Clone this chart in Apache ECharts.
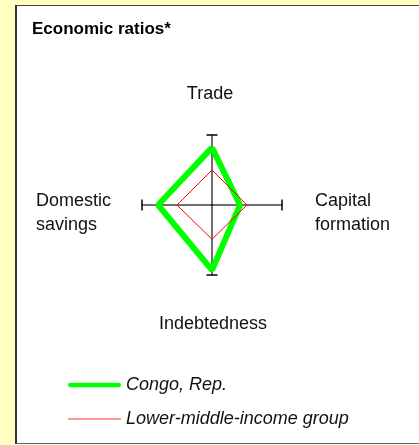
<!DOCTYPE html>
<html lang="en">
  <head>
    <meta charset="utf-8" />
    <script type="text/javascript" src="https://cdn.jsdelivr.net/npm/echarts@6/dist/echarts.min.js"></script>
    <title>Economic ratios</title>
    <style>
      html, body { margin: 0; padding: 0; background: #ffffc0; }
      #panel {
        position: absolute; left: 15px; top: 5px; width: 404px; height: 439px;
        background: #fff; border-left: 2px solid #333; border-top: 1px solid #444;
        border-bottom: 1px solid #666; box-sizing: border-box;
      }
      #chart { position: absolute; left: 0; top: 0; width: 419px; height: 445px; }
    </style>
  </head>
  <body>
    <div id="panel"></div>
    <div id="chart"></div>
    <script>
      // axes: Trade (up), Capital formation (right), Indebtedness (down), Domestic savings (left)
      var indicators = ['Trade', 'Capital\nformation', 'Indebtedness', 'Domestic\nsavings']
      var seriesNames = ['Congo, Rep.', 'Lower-middle-income group']
      var congo = [0.82, 0.40, 0.93, 0.77]
      var lowerMiddle = [0.50, 0.50, 0.49, 0.50]

      // turn the four ratios into a closed diamond on the x/y plane
      function toDiamond (v) {
        return [[0, v[0]], [v[1], 0], [0, -v[2]], [-v[3], 0], [0, v[0]]]
      }

      window.onload = function () {
        var chart = echarts.init(document.getElementById('chart'))
        var font = 'Liberation Sans, Arial, sans-serif'
        var labelStyle = { fontSize: 18, fill: '#111', fontFamily: font }
        chart.setOption({
          animation: false,
          textStyle: { fontFamily: font },
          title: {
            text: 'Economic ratios*', left: 27, top: 16,
            textStyle: { fontSize: 17, fontWeight: 'bold', color: '#000', fontFamily: font }
          },
          grid: { left: 142, top: 135, width: 140, height: 140 },
          xAxis: {
            type: 'value', min: -1, max: 1, interval: 1,
            axisLine: { lineStyle: { color: '#707070', width: 2 } },
            axisTick: { show: false }, axisLabel: { show: false }, splitLine: { show: false }
          },
          yAxis: {
            type: 'value', min: -1, max: 1, interval: 1,
            axisLine: { lineStyle: { color: '#707070', width: 2 } },
            axisTick: { show: false }, axisLabel: { show: false }, splitLine: { show: false }
          },
          legend: {
            orient: 'vertical', left: 63, top: 371, itemWidth: 53, itemHeight: 14, itemGap: 16,
            data: [
              { name: seriesNames[0], icon: 'path://M0,0M1,4.5h51a2.5,2.5,0,0,1,0,5h-51a2.5,2.5,0,0,1,0,-5zM53,14' },
              { name: seriesNames[1], icon: 'path://M0,0M0,6.5h53v1h-53zM53,14' }
            ],
            textStyle: { fontSize: 18, fontStyle: 'italic', color: '#111', fontFamily: font }
          },
          graphic: [
            { type: 'text', style: Object.assign({ text: indicators[0], x: 210, y: 94, align: 'center', verticalAlign: 'middle' }, labelStyle) },
            { type: 'text', style: Object.assign({ text: indicators[1], x: 315, y: 189, lineHeight: 24 }, labelStyle) },
            { type: 'text', style: Object.assign({ text: indicators[2], x: 213, y: 324, align: 'center', verticalAlign: 'middle' }, labelStyle) },
            { type: 'text', style: Object.assign({ text: indicators[3], x: 36, y: 189, lineHeight: 24 }, labelStyle) }
          ],
          series: [
            {
              name: seriesNames[1], type: 'line', symbol: 'none', data: toDiamond(lowerMiddle),
              lineStyle: { color: '#ff0000', width: 1 }, itemStyle: { color: '#ff3030' }, z: 3
            },
            {
              name: seriesNames[0], type: 'line', symbol: 'none', data: toDiamond(congo),
              lineStyle: { color: '#00ff00', width: 6 }, itemStyle: { color: '#00ff00' }, z: 2
            },
            {
              // end caps on the vertical axis
              type: 'scatter', symbol: 'rect', symbolSize: [11, 2], silent: true, z: 4,
              itemStyle: { color: '#111' }, data: [[0, 1], [0, -1]]
            },
            {
              // end caps on the horizontal axis
              type: 'scatter', symbol: 'rect', symbolSize: [2, 11], silent: true, z: 4,
              itemStyle: { color: '#111' }, data: [[1, 0], [-1, 0]]
            },
            {
              // small dot where the axes cross
              type: 'scatter', symbol: 'rect', symbolSize: 2, silent: true, z: 4,
              itemStyle: { color: '#111' }, data: [[0, 0]]
            }
          ]
        })
      }
    </script>
  </body>
</html>
